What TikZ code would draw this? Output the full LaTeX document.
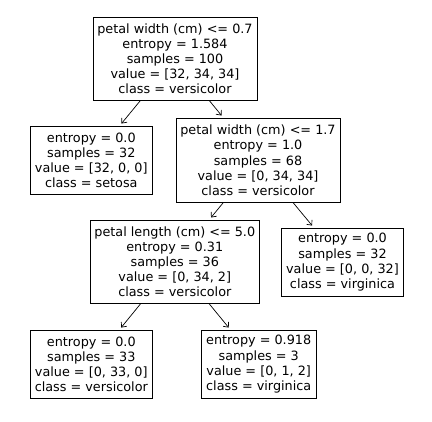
\documentclass[tikz,border=0pt]{standalone}
\usepackage{fontspec}
\setmainfont{DejaVu Sans}
\usetikzlibrary{arrows.meta}
\begin{document}
\begin{tikzpicture}[x=1pt,y=-1pt,
  treenode/.style={draw, line width=0.9pt, align=center, inner sep=0pt,
    font=\fontsize{12.8}{15.1}\selectfont},
  edge/.style={-{Straight Barb[length=4pt,width=7pt]}, line width=0.7pt, shorten >=3pt}]
\useasboundingbox (0,0) rectangle (432,422);
\node[treenode, minimum width=164pt, minimum height=83pt] (root) at (175,58.5)
  {petal width (cm) <= 0.7\\entropy = 1.584\\samples = 100\\value = [32, 34, 34]\\class = versicolor};
\node[treenode, minimum width=122pt, minimum height=68pt] (setosa) at (91.3,160.3)
  {entropy = 0.0\\samples = 32\\value = [32, 0, 0]\\class = setosa};
\node[treenode, minimum width=164pt, minimum height=84pt] (n2) at (258,160.3)
  {petal width (cm) <= 1.7\\entropy = 1.0\\samples = 68\\value = [0, 34, 34]\\class = versicolor};
\node[treenode, minimum width=169pt, minimum height=83pt] (n3) at (174.8,261.8)
  {petal length (cm) <= 5.0\\entropy = 0.31\\samples = 36\\value = [0, 34, 2]\\class = versicolor};
\node[treenode, minimum width=121.6pt, minimum height=67.7pt] (virg) at (342.5,262.2)
  {entropy = 0.0\\samples = 32\\value = [0, 0, 32]\\class = virginica};
\node[treenode, minimum width=122pt, minimum height=67.7pt] (vers) at (91.3,364.2)
  {entropy = 0.0\\samples = 33\\value = [0, 33, 0]\\class = versicolor};
\node[treenode, minimum width=114.7pt, minimum height=67.7pt] (mix) at (258.7,364.2)
  {entropy = 0.918\\samples = 3\\value = [0, 1, 2]\\class = virginica};
\draw[edge] (root) -- (setosa);
\draw[edge] (root) -- (n2);
\draw[edge] (n2) -- (n3);
\draw[edge] (n2) -- (virg);
\draw[edge] (n3) -- (vers);
\draw[edge] (n3) -- (mix);
\end{tikzpicture}
\end{document}
